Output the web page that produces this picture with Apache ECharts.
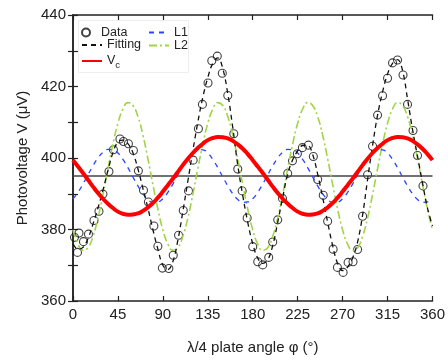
<!DOCTYPE html>
<html>
<head>
<meta charset="utf-8">
<script src="https://cdn.jsdelivr.net/npm/echarts@6/dist/echarts.min.js"></script>
<style>html,body{margin:0;padding:0;background:#fff}#c{width:448px;height:360px}</style>
</head>
<body>
<div id="c"></div>
<script>
// ---- data ----
const xTicks = [0, 45, 90, 135, 180, 225, 270, 315, 360];
const yTicks = [360, 380, 400, 420, 440];
const refLevel = 395;

const dataAngles = [1.5,4.5,6,10.5,15.5,21,26,30,36,40.5,47,50.5,55.5,60.5,65.5,70.6,75.5,81,85,89.5,96,100.4,105.7,110.4,115.7,120.3,125.6,129.6,135.2,139,144.5,149.5,155,161,165,169.4,174.4,180,185,190,196,200,205,209.8,215,219.8,224.7,229.7,235.7,240.7,245,250.6,255,260.5,264.8,270.5,275.5,280.4,285,290,295,300,305,310,315,320,325,330.5,335,340.5,345,350.5];
const dataValues = [377.8,373.6,379,376.6,378.7,382.5,385.1,389.9,396.2,402.3,405.3,404.6,404,402.1,396.4,391,387.7,381,375.3,369.2,369.1,372.8,378.4,385.3,390.8,399.4,408.2,415,421,427.2,428.5,423.7,417.5,406.8,396.9,390.8,383.2,375.2,371,370.1,372.2,376.5,382.7,388.7,395.7,399.2,401.2,402.9,403.6,400.4,394,389.6,382.3,374.5,369.4,368,370.8,371,374.4,383.7,395.3,403.3,412,417.4,422.3,426.6,427.4,423.2,415,407.7,400.7,392.2];

const angles = [0,5,10,15,20,25,30,35,40,45,50,55,60,65,70,75,80,85,90,95,100,105,110,115,120,125,130,135,140,145,150,155,160,165,170,175,180,185,190,195,200,205,210,215,220,225,230,235,240,245,250,255,260,265,270,275,280,285,290,295,300,305,310,315,320,325,330,335,340,345,350,355,360];
const fitValues = [376,374.5,375,377.5,381.5,386,391,396.5,401.5,404.5,405,404,401.5,397,391.5,386,380,374.5,370,368.8,371,377,385,393.5,402,410,417,422.5,426.5,428,425,418,408.5,398,389.5,382,376,372,370.5,371.5,375.5,382,389,395.5,399.5,402,403.5,403.5,401,395.5,389,382,375.5,370.5,368.5,369.5,372,376.5,384,394,403.5,412,418.5,423.5,426.5,427.5,424.5,416.5,408,400.5,393,386,381];
const vcValues = [399.4,397.6,395.8,393.9,392.0,390.2,388.6,387.2,386.0,385.0,384.4,384.1,384.2,384.5,385.2,386.2,387.4,388.9,390.6,392.4,394.2,396.1,398.0,399.8,401.4,402.8,404.0,405.0,405.6,405.9,405.8,405.5,404.8,403.8,402.6,401.1,399.4,
  397.6,395.8,393.9,392.0,390.2,388.6,387.2,386.0,385.0,384.4,384.1,384.2,384.5,385.2,386.2,387.4,388.9,390.6,392.4,394.2,396.1,398.0,399.8,401.4,402.8,404.0,405.0,405.6,405.9,405.8,405.5,404.8,403.8,402.6,401.1,399.4];
const l1Values = [388.6,390.4,392.7,395.3,397.8,400.0,401.6,402.4,402.3,401.4,399.6,397.3,394.7,392.2,390.0,388.4,387.6,387.7,
  388.6,390.4,392.7,395.3,397.8,400.0,401.6,402.4,402.3,401.4,399.6,397.3,394.7,392.2,390.0,388.4,387.6,387.7,
  388.6,390.4,392.7,395.3,397.8,400.0,401.6,402.4,402.3,401.4,399.6,397.3,394.7,392.2,390.0,388.4,387.6,387.7,
  388.6,390.4,392.7,395.3,397.8,400.0,401.6,402.4,402.3,401.4,399.6,397.3,394.7,392.2,390.0,388.4,387.6,387.7,388.6];
const l2Values = [379.9,375.9,374.2,374.9,378.1,383.2,389.8,397.0,403.9,409.7,413.7,415.5,414.7,411.6,406.4,399.8,392.6,385.7,
  379.9,375.9,374.2,374.9,378.1,383.2,389.8,397.0,403.9,409.7,413.7,415.5,414.7,411.6,406.4,399.8,392.6,385.7,
  379.9,375.9,374.2,374.9,378.1,383.2,389.8,397.0,403.9,409.7,413.7,415.5,414.7,411.6,406.4,399.8,392.6,385.7,
  379.9,375.9,374.2,374.9,378.1,383.2,389.8,397.0,403.9,409.7,413.7,415.5,414.7,411.6,406.4,399.8,392.6,385.7,379.9];

const pairs = (xs, ys) => xs.map((x, i) => [x, ys[i]]);

const chart = echarts.init(document.getElementById('c'), null, {renderer: 'canvas'});
const FONT = 'Liberation Sans, Arial, sans-serif';
const axisCol = '#222';
const legText = {fontFamily: FONT, fontSize: 12.5, color: '#222', lineHeight: 13};

chart.setOption({
  animation: false,
  backgroundColor: '#fff',
  grid: {left: 73, right: 13, top: 15, bottom: 54, containLabel: false},
  graphic: [{
    type: 'rect', left: 78, top: 20, z: 3, silent: true,
    shape: {width: 110, height: 52},
    style: {fill: '#fff', stroke: '#eeeeee', lineWidth: 1}
  }],
  xAxis: [{
    type: 'value', min: xTicks[0], max: xTicks[xTicks.length - 1], interval: 45,
    position: 'bottom',
    name: 'λ/4 plate angle φ (°)', nameLocation: 'middle', nameGap: 39,
    nameTextStyle: {fontFamily: FONT, fontSize: 15, color: axisCol},
    axisLine: {lineStyle: {color: axisCol, width: 1.5}},
    axisTick: {inside: true, length: 5, lineStyle: {color: axisCol, width: 1.2}},
    axisLabel: {fontFamily: FONT, fontSize: 15, color: axisCol, margin: 6},
    splitLine: {show: false}
  }, {
    type: 'value', min: xTicks[0], max: xTicks[xTicks.length - 1], interval: 45,
    position: 'top',
    axisLine: {show: true, lineStyle: {color: axisCol, width: 1.5}},
    axisTick: {inside: true, length: 5, lineStyle: {color: axisCol, width: 1.2}},
    axisLabel: {show: false},
    splitLine: {show: false}
  }],
  yAxis: [{
    type: 'value', min: yTicks[0], max: yTicks[yTicks.length - 1], interval: 10,
    position: 'left',
    name: 'Photovoltage V (μV)', nameLocation: 'middle', nameGap: 35.5, nameRotate: 90,
    nameTextStyle: {fontFamily: FONT, fontSize: 15, color: axisCol},
    axisLine: {show: true, lineStyle: {color: axisCol, width: 1.5}},
    axisTick: {inside: true, length: 5, lineStyle: {color: axisCol, width: 1.2}},
    axisLabel: {fontFamily: FONT, fontSize: 15, color: axisCol, margin: 7,
      formatter: v => (yTicks.indexOf(v) >= 0 ? String(v) : '')},
    splitLine: {show: false}
  }, {
    type: 'value', min: yTicks[0], max: yTicks[yTicks.length - 1], interval: 10,
    position: 'right',
    axisLine: {show: true, lineStyle: {color: axisCol, width: 1.5}},
    axisTick: {inside: true, length: 5, lineStyle: {color: axisCol, width: 1.2}},
    axisLabel: {show: false},
    splitLine: {show: false}
  }],
  legend: [{
    orient: 'vertical', left: 81, top: 26, itemWidth: 20, itemHeight: 8, itemGap: 0,
    padding: 0, selectedMode: false, z: 5,
    data: ['Data'],
    textStyle: legText
  }, {
    orient: 'vertical', left: 81, top: 38.5, itemWidth: 20, itemHeight: 8, itemGap: 3,
    padding: 0, selectedMode: false, z: 5,
    itemStyle: {opacity: 0},
    data: ['Fitting', 'Vc'],
    formatter: n => (n === 'Vc' ? '{v|V}{s|c}' : n),
    textStyle: Object.assign({}, legText, {
      rich: {v: {fontFamily: FONT, fontSize: 12.5, color: '#222', lineHeight: 13, verticalAlign: 'top'},
             s: {fontFamily: FONT, fontSize: 9.5, color: '#222', lineHeight: 10, verticalAlign: 'top', padding: [6, 0, 0, 0]}}})
  }, {
    orient: 'vertical', left: 148, top: 26, itemWidth: 20, itemHeight: 8, itemGap: 0,
    padding: 0, selectedMode: false, z: 5,
    itemStyle: {opacity: 0},
    data: ['L1', 'L2'],
    textStyle: legText
  }],
  series: [{
    name: 'ref', type: 'line', symbol: 'none', silent: true,
    data: [[xTicks[0], refLevel], [xTicks[xTicks.length - 1], refLevel]],
    lineStyle: {color: '#444', width: 1.5}
  }, {
    name: 'L2', type: 'line', symbol: 'none', smooth: 0.5,
    data: pairs(angles, l2Values),
    lineStyle: {color: '#9fd544', width: 1.6, type: [8, 3, 2, 3]},
    itemStyle: {color: '#9fd544'}
  }, {
    name: 'L1', type: 'line', symbol: 'none', smooth: 0.5,
    data: pairs(angles, l1Values),
    lineStyle: {color: '#2746ff', width: 1.3, type: [5, 5]},
    itemStyle: {color: '#2746ff'}
  }, {
    name: 'Fitting', type: 'line', symbol: 'none', smooth: 0.4,
    data: pairs(angles, fitValues),
    lineStyle: {color: '#111', width: 1.3, type: [5, 4]},
    itemStyle: {color: '#111'}
  }, {
    name: 'Vc', type: 'line', symbol: 'none', smooth: 0.5,
    data: pairs(angles, vcValues),
    lineStyle: {color: '#ff0000', width: 4},
    itemStyle: {color: '#ff0000'}
  }, {
    name: 'Data', type: 'scatter', symbol: 'circle', symbolSize: 8,
    data: pairs(dataAngles, dataValues),
    itemStyle: {color: 'rgba(255,255,255,0)', borderColor: '#111', borderWidth: 1.1}
  }]
});
</script>
</body>
</html>
